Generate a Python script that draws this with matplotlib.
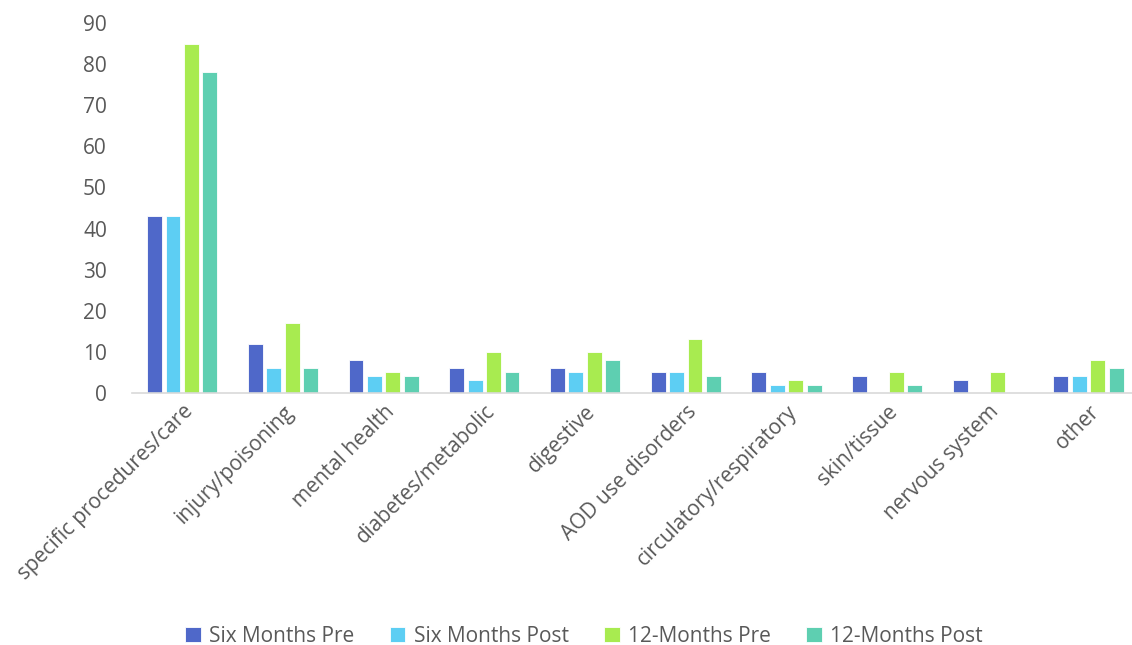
import numpy as np
import matplotlib
matplotlib.use("Agg")
import matplotlib.pyplot as plt

categories = ["specific procedures/care", "injury/poisoning", "mental health",
              "diabetes/metabolic", "digestive", "AOD use disorders",
              "circulatory/respiratory", "skin/tissue", "nervous system", "other"]
six_pre = [43, 12, 8, 6, 6, 5, 5, 4, 3, 4]
six_post = [43, 6, 4, 3, 5, 5, 2, 0, 0, 4]
twelve_pre = [85, 17, 5, 10, 10, 13, 3, 5, 5, 8]
twelve_post = [78, 6, 4, 5, 8, 4, 2, 2, 0, 6]
series_names = ["Six Months Pre", "Six Months Post", "12-Months Pre", "12-Months Post"]
colors = ["#4F68C9", "#5DCEF3", "#A8EB50", "#5ECFB1"]

plt.rcParams['font.family'] = ['Open Sans', 'DejaVu Sans']

fig = plt.figure(figsize=(11.32, 6.45), dpi=100)
ax = fig.add_axes([0.1165, 0.391, 0.8896, 0.573])

x = np.arange(len(categories))
w = 0.148
step = 0.183
for i, (vals, name) in enumerate(zip([six_pre, six_post, twelve_pre, twelve_post], series_names)):
    ax.bar(x + (i - 1.5) * step, vals, width=w, color=colors[i], label=name,
           edgecolor="white", linewidth=0.6)

ax.set_xlim(-0.5, len(categories) - 0.5)
ax.set_ylim(0, 90)
ax.set_yticks(range(0, 91, 10))
ax.set_xticks(x)
ax.set_xticklabels(categories, rotation=45, ha="right", rotation_mode="anchor")
ax.tick_params(axis="both", length=0, labelsize=15, labelcolor="#595959")
ax.tick_params(axis="y", pad=18)
ax.tick_params(axis="x", pad=6)
for s in ["top", "right", "left"]:
    ax.spines[s].set_visible(False)
ax.spines["bottom"].set_color("#D9D9D9")
ax.spines["bottom"].set_linewidth(1.2)

leg = fig.legend(loc="lower center", ncol=4, bbox_to_anchor=(0.516, -0.032), frameon=False,
                 fontsize=15, handlelength=0.75, handleheight=0.75, handletextpad=0.4,
                 columnspacing=1.7)
for t in leg.get_texts():
    t.set_color("#595959")

fig.savefig("out.png", dpi=100)
